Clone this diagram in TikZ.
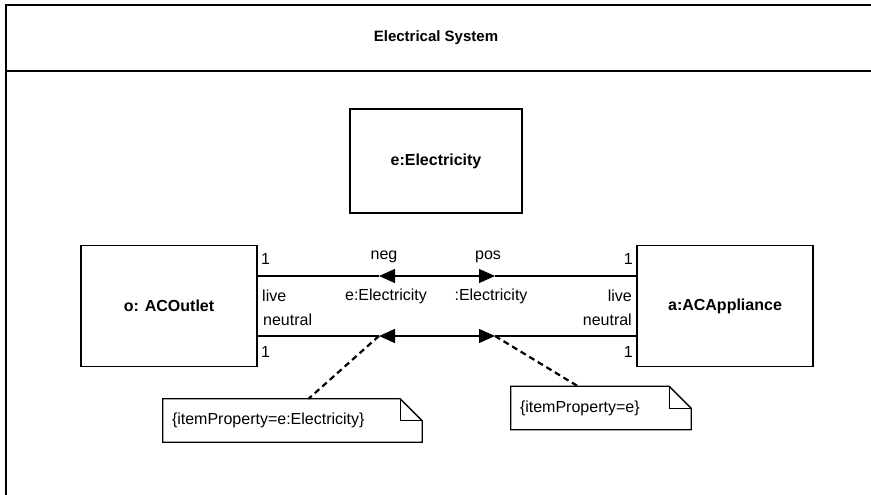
\documentclass[tikz,border=0pt]{standalone}
\usepackage{fontspec}
\setmainfont{Liberation Sans}
\usetikzlibrary{arrows.meta}
\tikzset{
  object/.style = {shape=rectangle, draw, line width=1.5pt,
                   minimum width=176pt, minimum height=121pt,
                   font=\fontsize{16}{19}\selectfont\bfseries},
  role/.style   = {inner sep=0pt, font=\fontsize{16}{19}\selectfont},
  flow/.style   = {line width=1.2pt},
  tip/.style    = {{Triangle[length=16pt,width=14pt]}-{Triangle[length=16pt,width=14pt]}},
  note/.style   = {inner xsep=9pt, inner ysep=0pt, minimum height=43pt,
                   align=left, font=\fontsize{16}{19}\selectfont},
  anchorline/.style = {line width=2.2pt, dash pattern=on 6pt off 4pt}
}
% outline of a note with its folded corner
\newcommand\notefold[1]{%
  \draw[line width=1.3pt] (#1.north west) -- ([xshift=-22pt]#1.north east)
    -- ([yshift=-22pt]#1.north east) -- (#1.south east) -- (#1.south west) -- cycle;
  \draw[line width=1.3pt] ([xshift=-22pt]#1.north east) |- ([yshift=-22pt]#1.north east);
}

\begin{document}
\begin{tikzpicture}[x=1pt, y=-1pt]
 \useasboundingbox (0,0) rectangle (871,495);

 % frame of the system
 \draw[line width=1.6pt] (6,495) -- (6,5) -- (871,5);
 \draw[line width=1.6pt] (6,71) -- (871,71);
 \node[font=\fontsize{15}{18}\selectfont\bfseries] (title) at (436,38) {Electrical System};

 % parts
 \node[object, minimum width=172pt, minimum height=104pt] (elec) at (436,161) {e:Electricity};
 \node[object] (outlet) at (169,306) {o: ACOutlet};
 \node[object] (appl)   at (725,306) {a:ACAppliance};

 % item flows
 \coordinate (negtip) at (379,276);
 \coordinate (postip) at (495,276);
 \coordinate (ntip)   at (379,336);
 \coordinate (ptip)   at (495,336);
 \draw[flow] (negtip -| outlet.east) -- (negtip);
 \draw[flow, tip] (negtip) -- (postip);
 \draw[flow] (postip) -- (postip -| appl.west);
 \draw[flow] (ntip -| outlet.east) -- (ntip);
 \draw[flow, tip] (ntip) -- (ptip);
 \draw[flow] (ptip) -- (ptip -| appl.west);

 % end labels
 \node[role, anchor=west] (m1) at (261,259) {1};
 \node[role, anchor=west] (live1) at (262,296) {live};
 \node[role, anchor=west] (neut1) at (263,320) {neutral};
 \node[role, anchor=west] (m2) at (261,352) {1};
 \node[role, anchor=east] (m3) at (633,259) {1};
 \node[role, anchor=east] (live2) at (632,296) {live};
 \node[role, anchor=east] (neut2) at (632,320) {neutral};
 \node[role, anchor=east] (m4) at (633,352) {1};
 \node[role] (neg) at (384,257) {neg};
 \node[role] (pos) at (488,257) {pos};
 \node[role] (item1) at (386,296) {e:Electricity};
 \node[role] (item2) at (491,296) {:Electricity};

 % notes
 \node[note, text width=241pt] (lnote) at (292.5,420.5) {\{itemProperty=e:Electricity\}};
 \node[note, text width=162pt] (rnote) at (601,408) {\{itemProperty=e\}};
 \notefold{lnote}
 \notefold{rnote}
 \draw[anchorline] (ntip) -- ([xshift=16pt]lnote.north);
 \draw[anchorline] (ptip) -- ([xshift=-23pt]rnote.north);
\end{tikzpicture}
\end{document}
